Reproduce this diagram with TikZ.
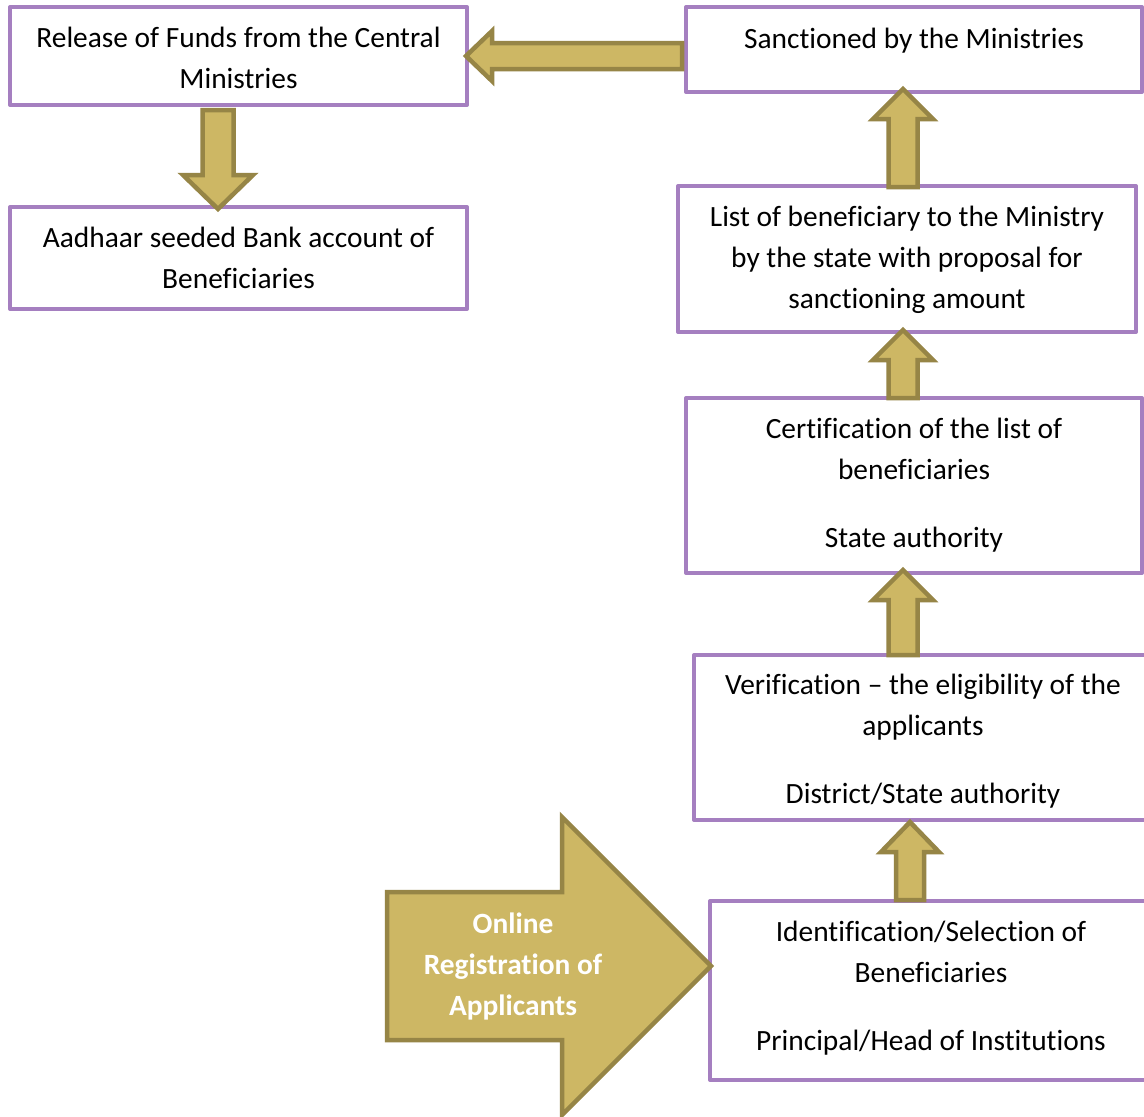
\documentclass[tikz,border=0pt]{standalone}
\usepackage{fontspec}
\setmainfont{Carlito}[Ligatures=NoCommon]
\usetikzlibrary{calc}

\definecolor{boxline}{HTML}{A57FC0}
\definecolor{arrowfill}{HTML}{CDB764}
\definecolor{arrowline}{HTML}{968546}

% Block arrow: #1 tail, #2 tip, #3 half shaft width, #4 half head width, #5 head length
\newcommand\blockarrow[5]{%
  \coordinate (ba-base) at ($(#2)!#5!(#1)$);
  \draw[blk] ($(#1)!#3!90:(#2)$) -- ($(ba-base)!#3!90:(#2)$) -- ($(ba-base)!#4!90:(#2)$)
    -- (#2) -- ($(ba-base)!#4!-90:(#2)$) -- ($(ba-base)!#3!-90:(#2)$)
    -- ($(#1)!#3!-90:(#2)$) -- cycle;
}

\tikzset{
  stepbox/.style={draw=boxline, line width=4pt, fill=white, rectangle, inner sep=0pt,
    line join=round},
  lbl/.style={anchor=north, align=center, inner sep=0pt,
    font={\fontsize{29.4}{41}\selectfont}, execute at begin node=\strut},
  blk/.style={draw=arrowline, fill=arrowfill, line width=4.5pt, line join=miter},
  bigtxt/.style={align=center, inner sep=0pt, text=white,
    font={\fontsize{29.4}{41}\selectfont\bfseries}}
}

\begin{document}
\begin{tikzpicture}[x=1pt, y=-1pt]
  \useasboundingbox (0,0) rectangle (1144,1117);
  \fill[white] (0,0) rectangle (1144,1117);
  \clip (0,0) rectangle (1144,1117);

  % boxes
  \node[stepbox, minimum width=457, minimum height=98]  (b1) at (238.5,56) {};
  \node[stepbox, minimum width=456, minimum height=85]  (b2) at (914,49.5) {};
  \node[stepbox, minimum width=457, minimum height=102] (b3) at (238.5,258) {};
  \node[stepbox, minimum width=458, minimum height=146] (b4) at (907,259) {};
  \node[stepbox, minimum width=456, minimum height=175] (b5) at (914,485.5) {};
  \node[stepbox, minimum width=458, minimum height=165] (b6) at (923,737.5) {};
  \node[stepbox, minimum width=442, minimum height=179] (b7) at (931,990.5) {};

  % box texts
  \node[lbl] (t1) at ($(b1.north)+(0,22)$) {Release of Funds from the Central\\Ministries};
  \node[lbl] (t2) at ($(b2.north)+(0,15)$) {Sanctioned by the Ministries};
  \node[lbl] (t3) at ($(b3.north)+(0,22)$) {Aadhaar seeded Bank account of\\Beneficiaries};
  \node[lbl] (t4) at ($(b4.north)+(0,22)$) {List of beneficiary to the Ministry\\by the state with proposal for\\sanctioning amount};
  \node[lbl] (t5) at ($(b5.north)+(0,22)$) {Certification of the list of\\beneficiaries\\[27pt]State authority};
  \node[lbl] (t6) at ($(b6.north)+(0,21)$) {Verification – the eligibility of the\\applicants\\[27pt]District/State authority};
  \node[lbl] (t7) at ($(b7.north)+(0,22)$) {Identification/Selection of\\Beneficiaries\\[27pt]Principal/Head of Institutions};

  % arrow axes
  \coordinate (xa) at (903,0);
  \coordinate (xb) at (910,0);
  \coordinate (xd) at (218,0);
  \coordinate (bigtail) at (387,966);

  \coordinate (a1s) at ($(xa |- b4.north)+(0,3)$);
  \coordinate (a1e) at ($(xa |- b2.south)+(0,-5)$);
  \coordinate (a2s) at ($(xa |- b5.north)+(0,2)$);
  \coordinate (a2e) at ($(xa |- b4.south)+(0,-4)$);
  \coordinate (a3s) at ($(xa |- b6.north)+(0,2)$);
  \coordinate (a3e) at ($(xa |- b5.south)+(0,-5)$);
  \coordinate (a4s) at ($(xb |- b7.north)+(0,1)$);
  \coordinate (a4e) at (xb |- b6.south);
  \coordinate (dls) at ($(xd |- b1.south)+(0,3)$);
  \coordinate (dle) at ($(xd |- b3.north)+(0,4)$);
  \coordinate (lfs) at ($(b2.west |- b1.east)+(-2,0)$);
  \coordinate (lfe) at ($(b1.east)+(-3,0)$);
  \coordinate (bige) at ($(b7.west |- bigtail)+(3,0)$);

  % flow arrows
  \blockarrow{a1s}{a1e}{14.5pt}{30pt}{30pt}
  \blockarrow{a2s}{a2e}{14.5pt}{30pt}{30pt}
  \blockarrow{a3s}{a3e}{14.5pt}{30pt}{30pt}
  \blockarrow{a4s}{a4e}{14pt}{29pt}{30pt}
  \blockarrow{dls}{dle}{15.5pt}{35pt}{34pt}
  \blockarrow{lfs}{lfe}{13pt}{25pt}{26pt}
  \blockarrow{bigtail}{bige}{74pt}{149pt}{149pt}

  \node[bigtxt] (reg) at (513,966) {Online\\Registration of\\Applicants};
\end{tikzpicture}
\end{document}
